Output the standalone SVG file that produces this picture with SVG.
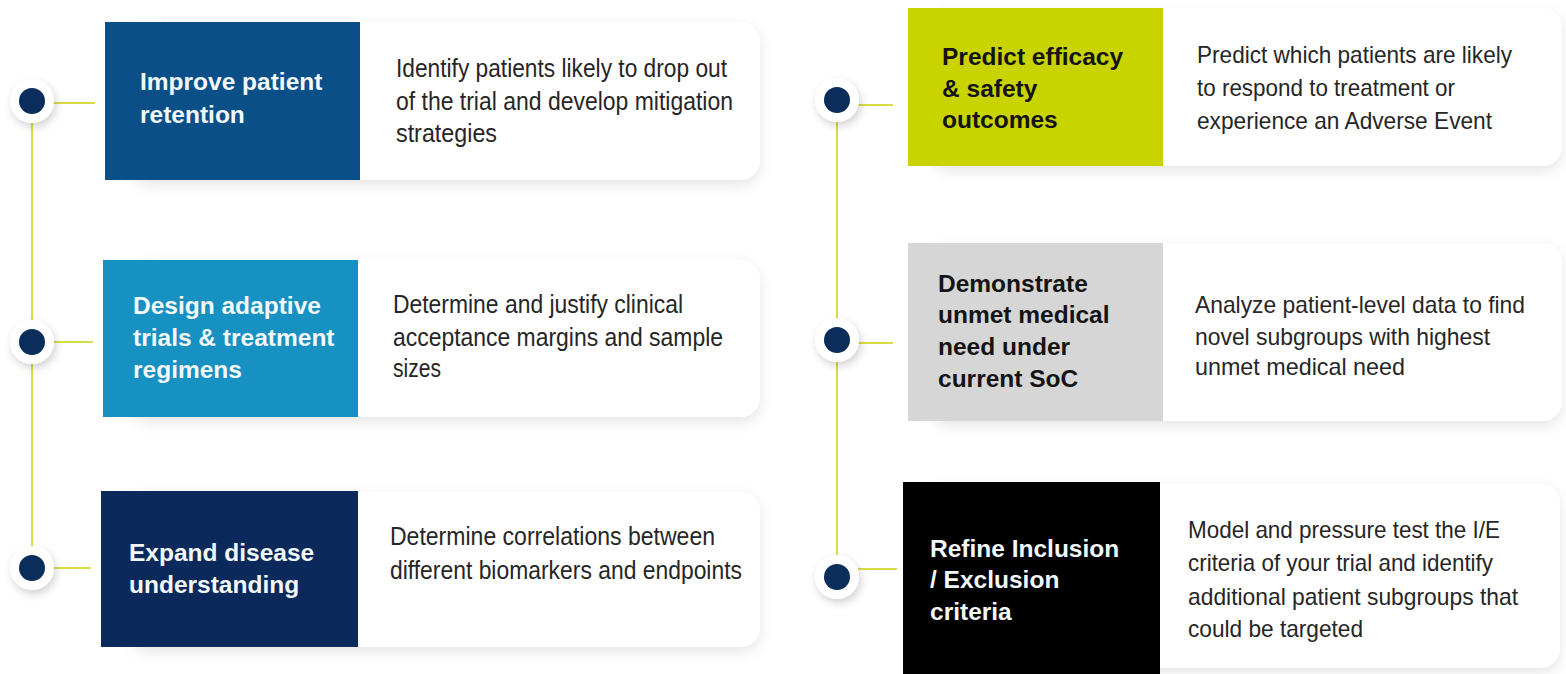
<svg xmlns="http://www.w3.org/2000/svg" width="1566" height="674" viewBox="0 0 1566 674">
  <defs>
    <filter id="cardShadow" x="-10%" y="-20%" width="120%" height="150%">
      <feDropShadow dx="0" dy="5" stdDeviation="7" flood-color="#000" flood-opacity="0.10"/>
    </filter>
    <filter id="dotShadow" x="-60%" y="-60%" width="220%" height="220%">
      <feDropShadow dx="2" dy="4" stdDeviation="4" flood-color="#000" flood-opacity="0.18"/>
    </filter>
  </defs>
  <style>
    .card { fill: #ffffff; }
    .title { font-family: "Liberation Sans", Arial, sans-serif; font-weight: bold; font-size: 24.5px; }
    .light { fill: #f2f8fb; }
    .dark { fill: #141414; }
    .desc { font-family: "Liberation Sans", Arial, sans-serif; font-size: 26px; fill: #262626; }
    .desc-r { font-family: "Liberation Sans", Arial, sans-serif; font-size: 24px; fill: #262626; }
    .link { stroke: #d9dd45; stroke-width: 2; fill: none; }
    .halo { fill: #ffffff; }
    .dot { fill: #0a2d5c; }
  </style>

  <rect width="1566" height="674" fill="#ffffff"/>

  <!-- connectors -->
  <g id="connectors">
    <line class="link" x1="32" y1="101" x2="32" y2="568"/>
    <line class="link" x1="837" y1="100" x2="837" y2="577"/>
    <line class="link" x1="53" y1="103" x2="95" y2="103"/>
    <line class="link" x1="53" y1="342" x2="93" y2="342"/>
    <line class="link" x1="53" y1="568" x2="91" y2="568"/>
    <line class="link" x1="857" y1="105" x2="893" y2="105"/>
    <line class="link" x1="858" y1="343" x2="893" y2="343"/>
    <line class="link" x1="858" y1="569" x2="897" y2="569"/>
  </g>

  <!-- timeline dots -->
  <g id="dots">
    <g filter="url(#dotShadow)">
      <circle class="halo" cx="32" cy="101" r="22"/>
      <circle class="halo" cx="32" cy="342" r="22"/>
      <circle class="halo" cx="32" cy="568" r="22"/>
      <circle class="halo" cx="837" cy="100" r="22"/>
      <circle class="halo" cx="837" cy="340" r="22"/>
      <circle class="halo" cx="837" cy="577" r="22"/>
    </g>
    <circle class="dot" cx="32" cy="101" r="13"/>
    <circle class="dot" cx="32" cy="342" r="13"/>
    <circle class="dot" cx="32" cy="568" r="13"/>
    <circle class="dot" cx="837" cy="100" r="13"/>
    <circle class="dot" cx="837" cy="340" r="13"/>
    <circle class="dot" cx="837" cy="577" r="13"/>
  </g>

  <!-- left column -->
  <g id="node-retention">
    <rect class="card" x="130" y="22" width="630" height="158" rx="20" filter="url(#cardShadow)"/>
    <rect x="105" y="22" width="255" height="158" fill="#0b4f88"/>
    <text class="title light"><tspan x="140" y="90">Improve patient</tspan><tspan x="140" y="123">retention</tspan></text>
    <text class="desc">
      <tspan x="396" y="77" textLength="331" lengthAdjust="spacingAndGlyphs">Identify patients likely to drop out</tspan>
      <tspan x="396" y="110" textLength="337" lengthAdjust="spacingAndGlyphs">of the trial and develop mitigation</tspan>
      <tspan x="396" y="142" textLength="101" lengthAdjust="spacingAndGlyphs">strategies</tspan>
    </text>
  </g>

  <g id="node-adaptive">
    <rect class="card" x="130" y="260" width="630" height="157" rx="20" filter="url(#cardShadow)"/>
    <rect x="103" y="260" width="255" height="157" fill="#1790c2"/>
    <text class="title light"><tspan x="133" y="314">Design adaptive</tspan><tspan x="133" y="346">trials &amp; treatment</tspan><tspan x="133" y="378">regimens</tspan></text>
    <text class="desc">
      <tspan x="393" y="313" textLength="290" lengthAdjust="spacingAndGlyphs">Determine and justify clinical</tspan>
      <tspan x="393" y="346" textLength="330" lengthAdjust="spacingAndGlyphs">acceptance margins and sample</tspan>
      <tspan x="393" y="377" textLength="48" lengthAdjust="spacingAndGlyphs">sizes</tspan>
    </text>
  </g>

  <g id="node-disease">
    <rect class="card" x="130" y="491" width="630" height="156" rx="20" filter="url(#cardShadow)"/>
    <rect x="101" y="491" width="257" height="156" fill="#0b2a5b"/>
    <text class="title light"><tspan x="129" y="561">Expand disease</tspan><tspan x="129" y="593">understanding</tspan></text>
    <text class="desc">
      <tspan x="390" y="545" textLength="325" lengthAdjust="spacingAndGlyphs">Determine correlations between</tspan>
      <tspan x="390" y="579" textLength="352" lengthAdjust="spacingAndGlyphs">different biomarkers and endpoints</tspan>
    </text>
  </g>

  <!-- right column -->
  <g id="node-efficacy">
    <rect class="card" x="930" y="8" width="632" height="158" rx="20" filter="url(#cardShadow)"/>
    <rect x="908" y="8" width="255" height="158" fill="#c9d300"/>
    <text class="title dark"><tspan x="942" y="65">Predict efficacy</tspan><tspan x="942" y="97">&amp; safety</tspan><tspan x="942" y="128">outcomes</tspan></text>
    <text class="desc-r">
      <tspan x="1197" y="63" textLength="315" lengthAdjust="spacingAndGlyphs">Predict which patients are likely</tspan>
      <tspan x="1197" y="96" textLength="258" lengthAdjust="spacingAndGlyphs">to respond to treatment or</tspan>
      <tspan x="1197" y="129" textLength="295" lengthAdjust="spacingAndGlyphs">experience an Adverse Event</tspan>
    </text>
  </g>

  <g id="node-unmet">
    <rect class="card" x="930" y="243" width="632" height="178" rx="20" filter="url(#cardShadow)"/>
    <rect x="908" y="243" width="255" height="178" fill="#d6d6d6"/>
    <text class="title dark"><tspan x="938" y="292">Demonstrate</tspan><tspan x="938" y="323">unmet medical</tspan><tspan x="938" y="355">need under</tspan><tspan x="938" y="387">current SoC</tspan></text>
    <text class="desc-r">
      <tspan x="1195" y="313" textLength="330" lengthAdjust="spacingAndGlyphs">Analyze patient-level data to find</tspan>
      <tspan x="1195" y="345" textLength="295" lengthAdjust="spacingAndGlyphs">novel subgroups with highest</tspan>
      <tspan x="1195" y="375" textLength="210" lengthAdjust="spacingAndGlyphs">unmet medical need</tspan>
    </text>
  </g>

  <g id="node-criteria">
    <rect class="card" x="925" y="483" width="635" height="185" rx="20" filter="url(#cardShadow)"/>
    <rect x="903" y="482" width="257" height="200" fill="#000000"/>
    <text class="title light"><tspan x="930" y="557">Refine Inclusion</tspan><tspan x="930" y="588">/ Exclusion</tspan><tspan x="930" y="620">criteria</tspan></text>
    <text class="desc-r">
      <tspan x="1188" y="538" textLength="312" lengthAdjust="spacingAndGlyphs">Model and pressure test the I/E</tspan>
      <tspan x="1188" y="571" textLength="305" lengthAdjust="spacingAndGlyphs">criteria of your trial and identify</tspan>
      <tspan x="1188" y="605" textLength="330" lengthAdjust="spacingAndGlyphs">additional patient subgroups that</tspan>
      <tspan x="1188" y="637" textLength="175" lengthAdjust="spacingAndGlyphs">could be targeted</tspan>
    </text>
  </g>
</svg>
